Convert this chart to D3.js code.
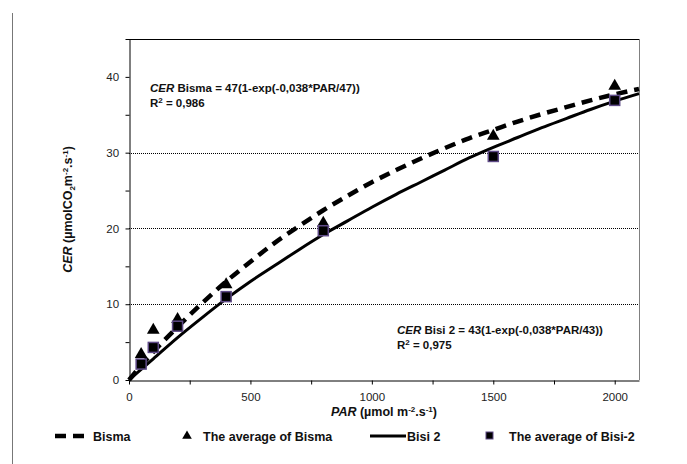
<!DOCTYPE html>
<html>
<head>
<meta charset="utf-8">
<script src="https://cdn.jsdelivr.net/npm/d3@7"></script>
<style>
  html, body { margin: 0; padding: 0; background: #fff; }
  svg { display: block; font-family: "Liberation Sans", Arial, sans-serif; }
</style>
</head>
<body>
<svg id="chart" width="687" height="464"></svg>
<script>
// measured averages
const parPoints = [50, 100, 200, 400, 800, 1500, 2000];
const bismaAvg = [3.4, 6.6, 8.0, 12.6, 20.7, 32.2, 38.8];
const bisiAvg = [2.1, 4.3, 7.1, 11.0, 19.7, 29.5, 36.9];

// fitted curves
const curvePar = [0, 50, 100, 200, 300, 400, 500, 600, 700, 800, 900, 1000, 1100,
  1200, 1300, 1400, 1500, 1600, 1700, 1800, 1900, 2000, 2100];
const bismaCurve = [0, 1.9, 3.7, 7.0, 10.1, 13.0, 15.6, 18.1, 20.3, 22.4, 24.3, 26.1,
  27.7, 29.2, 30.6, 31.9, 33.0, 34.1, 35.1, 36.0, 36.9, 37.7, 38.4];
const bisiCurve = [0, 1.4, 2.8, 5.6, 8.2, 10.7, 13.0, 15.1, 17.2, 19.2, 21.0, 22.8,
  24.5, 26.1, 27.7, 29.3, 30.7, 32.0, 33.3, 34.5, 35.7, 36.8, 37.8];

const xTicks = [0, 500, 1000, 1500, 2000];
const xMinorTicks = d3.range(0, 2101, 250);
const yTicks = [0, 10, 20, 30, 40];
const yMinorTicks = d3.range(0, 46, 5);
const gridValues = [10, 20, 30];

const legendItems = ['Bisma', 'The average of Bisma', 'Bisi 2', 'The average of Bisi-2'];

const svg = d3.select('#chart');
const plot = { left: 129, right: 639, top: 39, bottom: 380 };

const x = d3.scaleLinear().domain([0, 2100]).range([plot.left, plot.right]);
const y = d3.scaleLinear().domain([0, 45]).range([plot.bottom, plot.top]);

// page edge line on the left
svg.append('line')
  .attr('x1', 12.5).attr('x2', 12.5).attr('y1', 13).attr('y2', 464)
  .attr('stroke', '#777').attr('stroke-width', 1);

// gridlines
svg.append('g').selectAll('line')
  .data(gridValues)
  .join('line')
  .attr('x1', plot.left).attr('x2', plot.right)
  .attr('y1', function (d) { return Math.round(y(d)) + 0.5; })
  .attr('y2', function (d) { return Math.round(y(d)) + 0.5; })
  .attr('stroke', '#000').attr('stroke-width', 1)
  .attr('stroke-dasharray', '1,1');

// frame top + right
svg.append('line')
  .attr('x1', plot.left).attr('x2', plot.right)
  .attr('y1', plot.top + 0.5).attr('y2', plot.top + 0.5)
  .attr('stroke', '#000');
svg.append('line')
  .attr('x1', plot.right + 0.5).attr('x2', plot.right + 0.5)
  .attr('y1', plot.top).attr('y2', plot.bottom)
  .attr('stroke', '#808080');

// axes
const xAxis = svg.append('g')
  .attr('transform', 'translate(0,' + (plot.bottom + 0.5) + ')')
  .call(d3.axisBottom(x).tickValues(xMinorTicks).tickSize(4).tickSizeOuter(0)
    .tickFormat(function (d) { return xTicks.indexOf(d) >= 0 ? String(d) : ''; }));
const yAxis = svg.append('g')
  .attr('transform', 'translate(' + (plot.left + 0.5) + ',0)')
  .call(d3.axisLeft(y).tickValues(yMinorTicks).tickSize(4).tickSizeOuter(0)
    .tickFormat(function (d) { return yTicks.indexOf(d) >= 0 ? String(d) : ''; }));

[xAxis, yAxis].forEach(function (ax) {
  ax.select('.domain').attr('stroke', '#000');
  ax.selectAll('.tick line').attr('stroke', '#000');
  ax.selectAll('text')
    .attr('font-family', '"Liberation Sans", Arial, sans-serif')
    .attr('font-size', 11.5).attr('fill', '#222');
});
xAxis.selectAll('text').attr('dy', '1.2em');
yAxis.selectAll('text').attr('dx', '-0.3em');

// curves
const line = d3.line()
  .x(function (d) { return x(d[0]); })
  .y(function (d) { return y(d[1]); })
  .curve(d3.curveMonotoneX);

svg.append('path')
  .datum(d3.zip(curvePar, bisiCurve))
  .attr('fill', 'none').attr('stroke', '#000')
  .attr('stroke-width', 3)
  .attr('d', line);

svg.append('path')
  .datum(d3.zip(curvePar, bismaCurve))
  .attr('fill', 'none').attr('stroke', '#000')
  .attr('stroke-width', 4.5)
  .attr('stroke-dasharray', '11,7')
  .attr('d', line);

// markers
const tri = d3.symbol().type(d3.symbolTriangle).size(70);
svg.append('g').selectAll('path')
  .data(d3.zip(parPoints, bismaAvg))
  .join('path')
  .attr('d', tri)
  .attr('transform', function (d) { return 'translate(' + x(d[0]) + ',' + y(d[1]) + ')'; })
  .attr('fill', '#000');

svg.append('g').selectAll('rect')
  .data(d3.zip(parPoints, bisiAvg))
  .join('rect')
  .attr('x', function (d) { return x(d[0]) - 5; })
  .attr('y', function (d) { return y(d[1]) - 5; })
  .attr('width', 10).attr('height', 10)
  .attr('fill', '#000')
  .attr('stroke', '#5e4a86').attr('stroke-width', 1.5);

// equations
function equation(xPos, yPos, name, a, r2) {
  const t = svg.append('text')
    .attr('x', xPos).attr('y', yPos)
    .attr('font-size', 11.5).attr('font-weight', 'bold').attr('fill', '#111');
  t.append('tspan').attr('font-style', 'italic').text('CER');
  t.append('tspan').text(name + ' = ' + a + '(1-exp(-0,038*PAR/' + a + '))');
  const r = svg.append('text')
    .attr('x', xPos).attr('y', yPos + 15)
    .attr('font-size', 11.5).attr('font-weight', 'bold').attr('fill', '#111');
  r.append('tspan').text('R');
  r.append('tspan').attr('font-size', 8).attr('dy', -4).text('2');
  r.append('tspan').attr('dy', 4).text(' = ' + r2);
}
equation(150, 92, ' Bisma', 47, '0,986');
equation(397, 334, '  Bisi 2', 43, '0,975');

// axis titles
const xt = svg.append('text')
  .attr('x', (plot.left + plot.right) / 2).attr('y', 416)
  .attr('text-anchor', 'middle')
  .attr('font-size', 12.5).attr('font-weight', 'bold').attr('fill', '#111');
xt.append('tspan').attr('font-style', 'italic').text('PAR');
xt.append('tspan').text(' (µmol  m');
xt.append('tspan').attr('font-size', 8).attr('dy', -4).text('-2');
xt.append('tspan').attr('dy', 4).text('.s');
xt.append('tspan').attr('font-size', 8).attr('dy', -4).text('-1');
xt.append('tspan').attr('dy', 4).text(')');

const yt = svg.append('text')
  .attr('transform', 'translate(72,' + ((plot.top + plot.bottom) / 2) + ') rotate(-90)')
  .attr('text-anchor', 'middle')
  .attr('font-size', 12.5).attr('font-weight', 'bold').attr('fill', '#111');
yt.append('tspan').attr('font-style', 'italic').text('CER');
yt.append('tspan').text(' (µmolCO');
yt.append('tspan').attr('font-size', 8).attr('dy', 3).text('2');
yt.append('tspan').attr('dy', -3).text('m');
yt.append('tspan').attr('font-size', 8).attr('dy', -4).text('-2');
yt.append('tspan').attr('dy', 4).text('.s');
yt.append('tspan').attr('font-size', 8).attr('dy', -4).text('-1');
yt.append('tspan').attr('dy', 4).text(')');

// legend
const legY = 436;
const leg = svg.append('g').attr('font-size', 12.5).attr('font-weight', 'bold').attr('fill', '#111');
leg.append('line')
  .attr('x1', 55).attr('x2', 84).attr('y1', legY).attr('y2', legY)
  .attr('stroke', '#000').attr('stroke-width', 4.5).attr('stroke-dasharray', '11,7');
leg.append('text').attr('x', 93).attr('y', legY + 4.5).text(legendItems[0]);
leg.append('path').attr('d', d3.symbol().type(d3.symbolTriangle).size(40))
  .attr('transform', 'translate(187,' + legY + ')').attr('fill', '#000');
leg.append('text').attr('x', 203).attr('y', legY + 4.5).text(legendItems[1]);
leg.append('line')
  .attr('x1', 370).attr('x2', 406).attr('y1', legY).attr('y2', legY)
  .attr('stroke', '#000').attr('stroke-width', 3);
leg.append('text').attr('x', 407).attr('y', legY + 4.5).text(legendItems[2]);
leg.append('rect').attr('x', 486).attr('y', legY - 4).attr('width', 7).attr('height', 7)
  .attr('fill', '#000').attr('stroke', '#5e4a86').attr('stroke-width', 1);
leg.append('text').attr('x', 509).attr('y', legY + 4.5).text(legendItems[3]);
</script>
</body>
</html>
